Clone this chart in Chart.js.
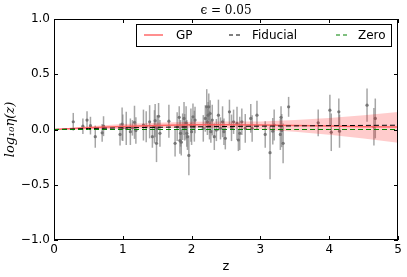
<!DOCTYPE html>
<html>
<head>
<meta charset="utf-8">
<script src="https://cdn.jsdelivr.net/npm/chart.js@4.4.1/dist/chart.umd.min.js"></script>
<style>
  html, body { margin: 0; padding: 0; background: #fff; }
</style>
</head>
<body>
<canvas id="chart" width="407" height="277"></canvas>
<script>
// observed points (z, log10 eta, 1-sigma error)
const zObs = [0.28, 0.42, 0.48, 0.53, 0.60, 0.70, 0.72, 0.96, 0.99, 1.00, 1.05, 1.11, 1.14, 1.17, 1.19,
  1.30, 1.34, 1.39, 1.43, 1.46, 1.47, 1.49, 1.50, 1.52, 1.54, 1.67, 1.76, 1.79, 1.82, 1.83, 1.84, 1.85,
  1.87, 1.89, 1.90, 1.92, 1.93, 1.94, 1.96, 1.99, 2.00, 2.02, 2.04, 2.05, 2.17, 2.20, 2.22, 2.23, 2.24,
  2.25, 2.26, 2.27, 2.28, 2.30, 2.33, 2.36, 2.39, 2.42, 2.45, 2.47, 2.49, 2.55, 2.58, 2.61, 2.66, 2.68,
  2.70, 2.73, 2.78, 2.86, 2.88, 2.95, 3.07, 3.14, 3.18, 3.20, 3.29, 3.30, 3.31, 3.33, 3.41, 3.84, 4.01,
  4.03, 4.14, 4.15, 4.55, 4.65, 4.67];
const etaObs = [0.07, 0.03, 0.085, 0.035, -0.065, -0.03, 0.03, -0.045, 0.05, 0.015, 0.01, -0.02, 0.015, 0.065, -0.01,
  0.04, 0.025, 0.07, -0.065, 0.025, 0.08, -0.125, 0.01, 0.12, -0.035, 0.075, -0.125, 0.025, 0.11, -0.10, -0.035, -0.115,
  0.025, 0.10, 0.02, 0.06, -0.035, -0.065, -0.235, 0.04, -0.02, 0.115, 0.03, 0.085, 0.01, 0.10, 0.205, 0.07, 0.13,
  0.205, 0.04, 0.145, -0.02, 0.085, -0.065, -0.005, 0.13, 0.01, 0.07, -0.02, -0.08, 0.16, 0.015, 0.07, 0.055, -0.095,
  -0.035, 0.07, 0.01, 0.10, 0.01, 0.13, -0.045, -0.21, -0.015, 0.04, -0.045, 0.11, -0.01, -0.125, 0.205, 0.06, 0.175,
  -0.025, 0.16, -0.015, 0.22, 0.025, 0.10];
const errObs = [0.08, 0.07, 0.08, 0.08, 0.10, 0.08, 0.09, 0.10, 0.15, 0.12, 0.15, 0.12, 0.07, 0.15, 0.12,
  0.14, 0.14, 0.15, 0.10, 0.15, 0.15, 0.17, 0.12, 0.12, 0.12, 0.15, 0.12, 0.13, 0.10, 0.12, 0.12, 0.12,
  0.12, 0.15, 0.12, 0.15, 0.12, 0.12, 0.18, 0.15, 0.12, 0.12, 0.14, 0.12, 0.12, 0.12, 0.16, 0.12, 0.12,
  0.12, 0.13, 0.12, 0.10, 0.14, 0.12, 0.10, 0.14, 0.10, 0.14, 0.12, 0.10, 0.11, 0.12, 0.11, 0.15, 0.10,
  0.15, 0.12, 0.13, 0.13, 0.12, 0.13, 0.12, 0.24, 0.12, 0.14, 0.14, 0.10, 0.15, 0.18, 0.09, 0.12, 0.14,
  0.17, 0.12, 0.15, 0.15, 0.17, 0.18];

// GP reconstruction and reference curves
const zGrid = [0, 0.5, 1, 1.5, 2, 2.5, 3, 3.5, 4, 4.5, 5];
const gpMean = [0, 0.015, 0.028, 0.036, 0.042, 0.042, 0.040, 0.036, 0.031, 0.026, 0.022];
const gpUpper = [0.003, 0.030, 0.050, 0.062, 0.070, 0.072, 0.072, 0.085, 0.105, 0.130, 0.158];
const gpLower = [-0.003, 0.000, 0.005, 0.012, 0.015, 0.012, 0.000, -0.020, -0.048, -0.082, -0.120];
const fiducial = [0, 0.0088, 0.015, 0.0199, 0.0239, 0.0272, 0.0301, 0.0327, 0.0349, 0.037, 0.0389];
const zero = [0, 0, 0, 0, 0, 0, 0, 0, 0, 0, 0];

const xTicks = [0, 1, 2, 3, 4, 5];
const yTicks = [-1.0, -0.5, 0.0, 0.5, 1.0];

const pts = (xs, ys) => xs.map((x, i) => ({ x: x, y: ys[i] }));

const errorBars = {
  id: "errorBars",
  beforeDatasetsDraw(chart) {
    const { ctx, chartArea, scales } = chart;
    ctx.save();
    ctx.beginPath();
    ctx.rect(chartArea.left, chartArea.top, chartArea.width, chartArea.height);
    ctx.clip();
    ctx.strokeStyle = "rgba(128,128,128,0.7)";
    ctx.lineWidth = 1.5;
    zObs.forEach((z, i) => {
      const px = scales.x.getPixelForValue(z);
      ctx.beginPath();
      ctx.moveTo(px, scales.y.getPixelForValue(etaObs[i] - errObs[i]));
      ctx.lineTo(px, scales.y.getPixelForValue(etaObs[i] + errObs[i]));
      ctx.stroke();
    });
    ctx.restore();
  }
};

const frame = {
  id: "frame",
  afterDraw(chart) {
    const { ctx, chartArea: a, scales } = chart;
    ctx.save();
    ctx.strokeStyle = "#000";
    ctx.lineWidth = 1;
    ctx.strokeRect(Math.round(a.left) + 0.5, Math.round(a.top) + 0.5,
      Math.round(a.width) - 1, Math.round(a.height) - 1);
    ctx.beginPath();
    xTicks.forEach(t => {
      const px = Math.round(scales.x.getPixelForValue(t)) + 0.5;
      ctx.moveTo(px, a.bottom); ctx.lineTo(px, a.bottom - 4);
      ctx.moveTo(px, a.top); ctx.lineTo(px, a.top + 4);
    });
    yTicks.forEach(t => {
      const py = Math.round(scales.y.getPixelForValue(t)) + 0.5;
      ctx.moveTo(a.left, py); ctx.lineTo(a.left + 4, py);
      ctx.moveTo(a.right, py); ctx.lineTo(a.right - 4, py);
    });
    ctx.stroke();

    // title
    ctx.fillStyle = "#000";
    ctx.font = '12px "DejaVu Serif"';
    ctx.textAlign = "center";
    ctx.textBaseline = "middle";
    ctx.fillText("\u03f5 = 0.05", (a.left + a.right) / 2, 11);

    // legend
    const lx = 136, ly = 24, lw = 255, lh = 22, cy = ly + lh / 2;
    ctx.fillStyle = "#fff";
    ctx.fillRect(lx, ly, lw, lh);
    ctx.strokeRect(lx + 0.5, ly + 0.5, lw, lh);
    const items = [
      { x0: 144, x1: 163, tx: 176, label: "GP", color: "rgba(255,90,90,0.9)", dash: [] },
      { x0: 229, x1: 242, tx: 252, label: "Fiducial", color: "#000", dash: [4, 3] },
      { x0: 336, x1: 349, tx: 358, label: "Zero", color: "#008000", dash: [4, 3] }
    ];
    ctx.font = '12px "DejaVu Sans"';
    ctx.textAlign = "left";
    items.forEach(it => {
      ctx.strokeStyle = it.color;
      ctx.lineWidth = it.dash.length ? 1 : 1.5;
      ctx.setLineDash(it.dash);
      ctx.beginPath();
      ctx.moveTo(it.x0, cy); ctx.lineTo(it.x1, cy);
      ctx.stroke();
      ctx.setLineDash([]);
      ctx.fillStyle = "#000";
      ctx.fillText(it.label, it.tx, cy + 0.5);
    });
    ctx.restore();
  }
};

new Chart(document.getElementById("chart"), {
  type: "scatter",
  data: {
    datasets: [
      {
        label: "data",
        data: pts(zObs, etaObs),
        pointRadius: 1.6,
        pointBackgroundColor: "rgba(110,110,110,0.9)",
        pointBorderWidth: 0,
        order: 10
      },
      {
        type: "line",
        label: "upper",
        data: pts(zGrid, gpUpper),
        borderWidth: 0,
        pointRadius: 0,
        fill: "+1",
        backgroundColor: "rgba(255,0,0,0.2)",
        order: 5
      },
      {
        type: "line",
        label: "lower",
        data: pts(zGrid, gpLower),
        borderWidth: 0,
        pointRadius: 0,
        fill: false,
        order: 6
      },
      {
        type: "line",
        label: "GP",
        data: pts(zGrid, gpMean),
        borderColor: "rgba(255,90,90,0.9)",
        borderWidth: 1.5,
        pointRadius: 0,
        fill: false,
        order: 4
      },
      {
        type: "line",
        label: "Fiducial",
        data: pts(zGrid, fiducial),
        borderColor: "#000",
        borderWidth: 1,
        borderDash: [5, 3],
        pointRadius: 0,
        fill: false,
        order: 3
      },
      {
        type: "line",
        label: "Zero",
        data: pts(zGrid, zero),
        borderColor: "#008000",
        borderWidth: 1,
        borderDash: [5, 3],
        pointRadius: 0,
        fill: false,
        order: 2
      }
    ]
  },
  options: {
    responsive: false,
    animation: false,
    devicePixelRatio: 1,
    layout: { padding: { top: 19, right: 9, left: 0, bottom: 0 } },
    plugins: { legend: { display: false }, tooltip: { enabled: false } },
    scales: {
      x: {
        type: "linear",
        min: 0, max: 5,
        grid: { display: false, drawTicks: false },
        border: { display: false },
        afterBuildTicks: s => { s.ticks = xTicks.map(v => ({ value: v })); },
        ticks: { color: "#000", padding: 3, font: { family: "DejaVu Sans", size: 12 }, maxRotation: 0 },
        title: { display: true, text: "z", color: "#000", font: { family: "DejaVu Sans", size: 13 }, padding: { top: 0, bottom: 3 } },
        afterFit: s => { s.height = 37; }
      },
      y: {
        min: -1, max: 1,
        grid: { display: false, drawTicks: false },
        border: { display: false },
        afterBuildTicks: s => { s.ticks = yTicks.map(v => ({ value: v })); },
        ticks: {
          color: "#000", padding: 4,
          font: { family: "DejaVu Sans", size: 12 },
          callback: v => (v < 0 ? "\u2212" : "") + Math.abs(v).toFixed(1)
        },
        title: { display: true, text: "log\u2081\u2080\u03b7(z)", color: "#000", font: { family: "DejaVu Serif", size: 13, style: "italic" }, padding: { top: 3, bottom: 4 } },
        afterFit: s => { s.width = 54; }
      }
    }
  },
  plugins: [errorBars, frame]
});
</script>
</body>
</html>
